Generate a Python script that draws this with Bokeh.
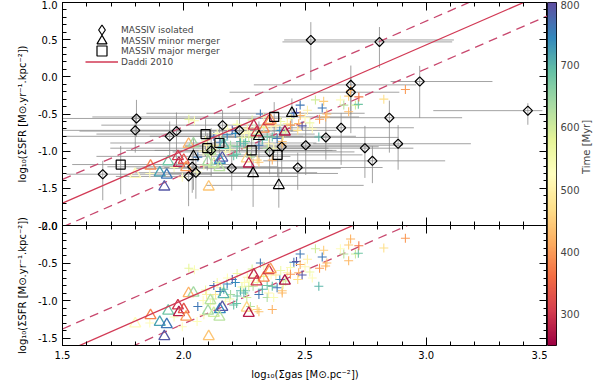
import math
import numpy as np
from bokeh.plotting import figure
from bokeh.layouts import row, column
from bokeh.models import (ColumnDataSource, LinearAxis, LinearColorMapper, Range1d,
                          FixedTicker, Legend, LegendItem, PrintfTickFormatter)
from bokeh.embed import file_html
from bokeh.resources import INLINE

FONT = "DejaVu Sans"

# ---------------- data ----------------
# MASSIV isolated galaxies (diamonds): position and asymmetric errors
iso_x = [1.666, 1.805, 1.80, 1.942, 1.97, 2.035, 2.02, 2.05, 2.113, 2.16, 2.23, 2.198, 2.354, 2.404,
         2.47, 2.503, 2.586, 2.649, 2.689, 2.689, 2.973, 3.419, 2.848, 2.884, 2.747, 2.778, 2.524, 2.807]
iso_y = [-1.31, -0.56, -0.72, -0.80, -0.73, -1.21, -1.34, -1.29, -0.99, -0.65, -0.72, -1.23, -1.01, -0.94,
         -1.22, -0.92, -0.815, -0.685, -0.108, -0.207, -0.063, -0.455, -0.55, -0.90, -0.96, -1.13, 0.496, 0.47]
iso_xlo = [0.15, 0.35, 0.30, 0.45, 0.40, 0.35, 0.30, 0.25, 0.35, 0.50, 0.45, 0.40, 0.40, 0.40,
           0.55, 0.50, 0.50, 0.45, 0.40, 0.50, 0.12, 0.39, 0.30, 0.35, 0.45, 0.45, 0.11, 0.40]
iso_xhi = [0.45, 0.60, 0.50, 0.55, 0.50, 0.35, 0.45, 0.50, 0.50, 0.30, 0.40, 0.45, 0.35, 0.40,
           0.35, 0.40, 0.30, 0.30, 0.27, 0.20, 0.30, 0.06, 0.30, 0.30, 0.20, 0.30, 0.59, 0.30]
iso_ylo = [0.35, 0.25, 0.30, 0.30, 0.50, 0.35, 0.40, 0.35, 0.35, 0.20, 0.30, 0.30, 0.30, 0.35,
           0.30, 0.40, 0.30, 0.50, 0.65, 0.30, 0.49, 0.19, 0.47, 0.35, 0.40, 0.30, 0.54, 0.35]
iso_yhi = [0.18, 0.25, 0.20, 0.20, 0.25, 0.20, 0.20, 0.20, 0.30, 0.20, 0.25, 0.20, 0.20, 0.25,
           0.20, 0.30, 0.25, 0.20, 0.26, 0.20, 0.21, 0.10, 0.23, 0.25, 0.30, 0.20, 0.24, 0.20]

# MASSIV minor mergers (triangles)
min_x = [2.04, 2.286, 2.31, 2.392, 2.446]
min_y = [-1.07, -1.30, -0.80, -1.46, -0.49]
min_xlo = [0.40, 0.35, 0.45, 0.30, 0.60]
min_xhi = [0.40, 0.35, 0.40, 0.35, 0.30]
min_ylo = [0.45, 0.45, 0.30, 0.30, 0.25]
min_yhi = [0.25, 0.20, 0.20, 0.25, 0.20]

# MASSIV major mergers (squares)
maj_x = [1.74, 2.09, 2.097, 2.147, 2.28, 2.373, 2.387]
maj_y = [-1.18, -0.77, -0.96, -0.89, -0.99, -0.54, -1.05]
maj_xlo = [0.20, 0.45, 0.40, 0.45, 0.40, 0.75, 0.35]
maj_xhi = [0.45, 0.45, 0.50, 0.40, 0.35, 0.35, 0.35]
maj_ylo = [0.40, 0.30, 0.30, 0.30, 0.30, 0.25, 0.30]
maj_yhi = [0.25, 0.20, 0.20, 0.25, 0.20, 0.20, 0.20]

# Simulation snapshots (plus signs): log Sigma_gas, log Sigma_SFR, time [Myr]
sim_x = [2.021, 2.044, 2.058, 2.08, 2.094, 2.124, 2.138, 2.152, 2.131, 2.165, 2.179, 2.20, 2.213, 2.218,
         2.22, 2.234, 2.255, 2.25, 2.268, 2.286, 2.303, 2.316, 2.33, 2.31, 2.324, 2.344, 2.365, 2.385,
         2.396, 2.406, 2.427, 2.44, 2.454, 2.474, 2.303, 2.365, 2.275, 2.193, 2.172, 2.11, 2.083, 2.055,
         1.994, 2.344, 2.371, 2.282, 2.262, 2.48, 2.465, 2.488, 2.543, 2.577, 2.585, 2.56, 2.52, 2.50,
         2.51, 2.557, 2.571, 2.646, 2.66, 2.68, 2.708, 2.72, 2.688, 2.68, 2.722, 2.825, 2.914, 2.406,
         2.31, 2.206, 2.248, 2.15, 2.44, 2.48, 2.59, 2.36, 2.40, 2.42, 2.29, 2.22, 2.18, 2.12, 2.09,
         2.47, 2.53, 1.86, 1.96, 2.24, 2.27, 2.33, 2.19, 2.35, 2.41, 2.26, 2.38]
sim_y = [-0.57, -0.59, -1.08, -1.00, -0.92, -0.80, -0.76, -0.83, -0.92, -0.85, -0.78, -0.72, -0.76, -1.04,
         -0.94, -0.87, -0.87, -0.76, -0.81, -0.81, -0.76, -0.50, -0.54, -0.92, -0.85, -0.80, -0.81, -0.83,
         -0.72, -0.87, -0.63, -0.56, -0.49, -0.63, -1.12, -1.12, -1.08, -0.92, -1.01, -1.05, -1.19, -1.28,
         -1.35, -0.96, -0.96, -0.58, -0.69, -0.38, -0.48, -0.66, -0.31, -0.33, -0.54, -0.57, -0.62, -0.55,
         -0.45, -0.81, -0.42, -0.31, -0.38, -0.47, -0.38, -0.37, -0.18, -0.26, -0.27, -0.30, -0.17, -0.90,
         -1.15, -1.06, -0.90, -0.88, -0.65, -0.52, -0.50, -0.66, -0.60, -0.74, -0.70, -0.64, -0.70, -0.98,
         -0.86, -0.72, -0.70, -1.30, -1.22, -0.82, -0.74, -0.68, -0.98, -0.90, -0.79, -0.96, -0.66]
sim_t = [575, 540, 760, 520, 500, 770, 540, 510, 490, 700, 750, 790, 740, 690,
         680, 700, 690, 520, 590, 620, 550, 760, 540, 760, 700, 680, 690, 760,
         740, 440, 500, 540, 760, 420, 460, 420, 620, 640, 520, 540, 510, 530,
         520, 630, 540, 590, 500, 760, 790, 790, 600, 450, 420, 400, 560, 510,
         500, 700, 760, 520, 620, 430, 600, 680, 420, 450, 370, 470, 400, 430,
         440, 690, 700, 760, 400, 420, 430, 520, 560, 600, 530, 560, 530, 600,
         560, 470, 520, 520, 540, 560, 530, 580, 550, 510, 570, 600, 490]

# Simulated mergers (coloured triangles)
stri_x = [1.80, 1.863, 1.901, 1.93, 1.92, 1.936, 1.976, 1.98, 2.00, 2.01, 2.02, 2.04, 2.103, 2.11,
          2.10, 2.124, 2.149, 2.159, 2.147, 2.164, 2.26, 2.268, 2.289, 2.30, 2.33, 2.35, 2.358, 2.417]
stri_y = [-1.31, -1.20, -1.29, -1.32, -1.48, -1.14, -1.07, -1.16, -1.12, -1.22, -0.905, -0.90, -1.48, -1.00,
          -1.14, -1.17, -1.12, -1.09, -1.22, -0.92, -1.10, -1.17, -0.66, -0.75, -0.70, -0.60, -0.585, -0.74]
stri_t = [520, 380, 720, 760, 790, 680, 300, 275, 330, 400, 420, 640, 440, 620,
          640, 600, 740, 790, 620, 700, 460, 275, 285, 300, 380, 300, 400, 265]

# Daddi et al. 2010 relation
DADDI_SLOPE = 1.42
DADDI_ICPT = -3.83
DADDI_SCATTER = 0.32
XMIN, XMAX = 1.5, 3.5
TMIN, TMAX = 250, 800

x_ticks = [1.5, 2.0, 2.5, 3.0, 3.5]
top_yticks = [-2.0, -1.5, -1.0, -0.5, 0.0, 0.5, 1.0]
bot_yticks = [-1.5, -1.0, -0.5, 0.0]
cb_ticks = [300, 400, 500, 600, 700, 800]

legend_labels = ["MASSIV isolated", "MASSIV minor merger", "MASSIV major merger", "Daddi 2010"]

# ---------------- colours ----------------
spectral = ['#9e0142', '#d53e4f', '#f46d43', '#fdae61', '#fee08b', '#ffffbf',
            '#e6f598', '#abdda4', '#66c2a5', '#3288bd', '#5e4fa2']
def _rgb(h):
    return np.array([int(h[i:i + 2], 16) for i in (1, 3, 5)], dtype=float)
stops = np.array([_rgb(c) for c in spectral])
N = 256
pos = np.linspace(0, len(spectral) - 1, N)
pal = []
for f in pos:
    i = min(int(np.floor(f)), len(spectral) - 2)
    w = f - i
    c = stops[i] * (1 - w) + stops[i + 1] * w
    pal.append('#%02x%02x%02x' % tuple(int(round(v)) for v in c))
mapper = LinearColorMapper(palette=pal, low=TMIN, high=TMAX)

RED = "#d23a55"
RED_D = "#c8486e"
GRAY = "#8c8c8c"

def minor(major, step):
    lo, hi = major[0], major[-1]
    n = int(round((hi - lo) / step))
    return [round(lo + k * step, 4) for k in range(n + 1)]

def fmt(v):
    return ("%.1f" % v).replace("-", "\u2212")

def jskey(v):
    s = repr(float(v))
    return s[:-2] if s.endswith(".0") else s

def axis(ticks, minors, labels=True, label=None):
    ax = LinearAxis(ticker=FixedTicker(ticks=ticks, minor_ticks=minors))
    ax.major_tick_in = 8
    ax.major_tick_out = 0
    ax.minor_tick_in = 4
    ax.minor_tick_out = 0
    ax.axis_line_color = "black"
    ax.major_tick_line_color = "black"
    ax.minor_tick_line_color = "black"
    if labels:
        ax.formatter = PrintfTickFormatter(format="%.1f")
        ax.major_label_text_font = FONT
        ax.major_label_text_font_size = "10px"
        ax.major_label_text_color = "black"
        ax.major_label_standoff = 5
        ax.major_label_overrides = {jskey(t): fmt(t) for t in ticks}
    else:
        ax.major_label_text_font_size = "0px"
        ax.major_label_standoff = 0
    if label:
        ax.axis_label = label
        ax.axis_label_text_font = FONT
        ax.axis_label_text_font_size = "10px"
        ax.axis_label_text_font_style = "normal"
        ax.axis_label_text_color = "black"
        ax.axis_label_standoff = 7
    return ax

YLABEL = "log\u2081\u2080(\u03a3SFR [M\u2299.yr\u207b\u00b9.kpc\u207b\u00b2])"
XLABEL = "log\u2081\u2080(\u03a3gas [M\u2299.pc\u207b\u00b2])"

xminor = minor(x_ticks, 0.1)

def make_panel(height, yr, yticks, bottom_labels, top_border, bottom_border):
    p = figure(width=547, height=height, x_range=Range1d(XMIN, XMAX), y_range=Range1d(*yr),
               output_backend="svg", toolbar_location=None,
               x_axis_location=None, y_axis_location=None,
               min_border_left=62, min_border_right=0, min_border_top=top_border,
               min_border_bottom=bottom_border)
    p.grid.grid_line_color = None
    p.outline_line_color = "black"
    p.outline_line_width = 1
    p.background_fill_color = "white"
    p.border_fill_alpha = 0
    yminor = minor(yticks, 0.1)
    if yr[0] < yticks[0]:
        yminor = [round(yticks[0] - 0.1, 4)] + yminor
    p.add_layout(axis(yticks, yminor, True, YLABEL), "left")
    p.add_layout(axis(yticks, yminor, False), "right")
    p.add_layout(axis(x_ticks, xminor, False), "above")
    if bottom_labels:
        p.add_layout(axis(x_ticks, xminor, True, XLABEL), "below")
    else:
        p.add_layout(axis(x_ticks, xminor, False), "below")
    return p

# top panel: frame 2..225 px; 6 px spare below so its lowest tick label is not cut
top = make_panel(231, (-2.0, 1.0), top_yticks, False, 2, 6)
# bottom panel: frame 225..345 px; its canvas starts 15 px higher (transparent) and overlaps
bot = make_panel(173, (-1.6, 0.0), bot_yticks, True, 15, 38)
bot.styles = {"margin-top": "-21px"}

# Daddi line
lx = [XMIN, XMAX]
daddi = [DADDI_SLOPE * v + DADDI_ICPT for v in lx]
d_up = [v + DADDI_SCATTER for v in daddi]
d_dn = [v - DADDI_SCATTER for v in daddi]

# MASSIV error bars
x0s, x1s, y0s, y1s = [], [], [], []
for xs, ys, xl, xh, yl, yh in [(iso_x, iso_y, iso_xlo, iso_xhi, iso_ylo, iso_yhi),
                               (min_x, min_y, min_xlo, min_xhi, min_ylo, min_yhi),
                               (maj_x, maj_y, maj_xlo, maj_xhi, maj_ylo, maj_yhi)]:
    for x, y, a, b, c, d in zip(xs, ys, xl, xh, yl, yh):
        x0s += [x - a, x]
        x1s += [x + b, x]
        y0s += [y, y - c]
        y1s += [y, y + d]
err_src = ColumnDataSource(dict(x0=x0s, x1=x1s, y0=y0s, y1=y1s))
top.segment("x0", "y0", "x1", "y1", source=err_src, line_color=GRAY, line_width=0.8)

sim_src = ColumnDataSource(dict(x=sim_x, y=sim_y, t=sim_t))
stri_src = ColumnDataSource(dict(x=stri_x, y=stri_y, t=stri_t))

for p in (top, bot):
    p.line(lx, d_up, line_color=RED_D, line_width=1.3, line_dash="9 6")
    p.line(lx, d_dn, line_color=RED_D, line_width=1.3, line_dash="9 6")
    p.scatter("x", "y", source=sim_src, marker="cross", size=9, line_width=1.1,
              line_color={"field": "t", "transform": mapper})
    p.scatter("x", "y", source=stri_src, marker="triangle", size=11, line_width=1.3,
              fill_color=None, line_color={"field": "t", "transform": mapper})

r_daddi = top.line(lx, daddi, line_color=RED, line_width=1.3)
bot.line(lx, daddi, line_color=RED, line_width=1.3)

# isolated galaxies: squares turned by 45 degrees (equal width and height, like the reference)
top.scatter(iso_x, iso_y, marker="square", angle=math.pi / 4, size=6.5, line_color="black",
            line_width=1.2, fill_color=None)
r_min = top.scatter(min_x, min_y, marker="triangle", size=11, line_color="black", line_width=1.2,
                    fill_color=None)
r_maj = top.scatter(maj_x, maj_y, marker="square", size=9, line_color="black", line_width=1.2,
                    fill_color=None)
# legend symbol for the isolated galaxies: a diamond renderer that is muted (invisible in the plot)
r_iso_leg = top.scatter(iso_x, iso_y, marker="diamond", line_color="black", line_width=1.2,
                        fill_color=None, muted_line_alpha=0, muted_fill_alpha=0)
r_iso_leg.muted = True

# one single-row legend per entry so rows can sit 11 px apart with large symbols
leg_bottoms = [183, 172, 162, 151]
for lab, rend, yb in zip(legend_labels, [r_iso_leg, r_min, r_maj, r_daddi], leg_bottoms):
    lg = Legend(items=[LegendItem(label=lab, renderers=[rend])],
                location=(23, yb), glyph_width=33, glyph_height=25, label_height=11,
                padding=0, margin=0, label_standoff=3, click_policy="none",
                label_text_font=FONT, label_text_font_size="9px",
                border_line_color=None, background_fill_alpha=0)
    top.add_layout(lg)

# colour bar as its own narrow panel
cb = figure(width=53, height=383, x_range=Range1d(0, 1), y_range=Range1d(TMIN, TMAX),
            output_backend="svg", toolbar_location=None,
            x_axis_location=None, y_axis_location=None,
            min_border_left=0, min_border_right=39, min_border_top=2, min_border_bottom=38)
cb.grid.grid_line_color = None
cb.outline_line_color = "black"
grad = np.linspace(TMIN, TMAX, 400).reshape(-1, 1)
cb.image(image=[grad], x=0, y=TMIN, dw=1, dh=TMAX - TMIN, color_mapper=mapper)
cax = LinearAxis(ticker=FixedTicker(ticks=cb_ticks), axis_label="Time [Myr]")
cax.major_tick_in = 0
cax.major_tick_out = 0
cax.minor_tick_in = 0
cax.minor_tick_out = 0
cax.axis_line_color = None
cax.major_label_text_font = FONT
cax.major_label_text_font_size = "10px"
cax.major_label_standoff = 4
cax.axis_label_text_font = FONT
cax.axis_label_text_font_size = "10px"
cax.axis_label_text_font_style = "normal"
cax.axis_label_standoff = 4
if "axis_label_orientation" in cax.properties():
    cax.axis_label_orientation = math.pi / 2
cb.add_layout(cax, "right")

layout = row(column(top, bot), cb)

open("out.html", "w").write(file_html(layout, INLINE))
